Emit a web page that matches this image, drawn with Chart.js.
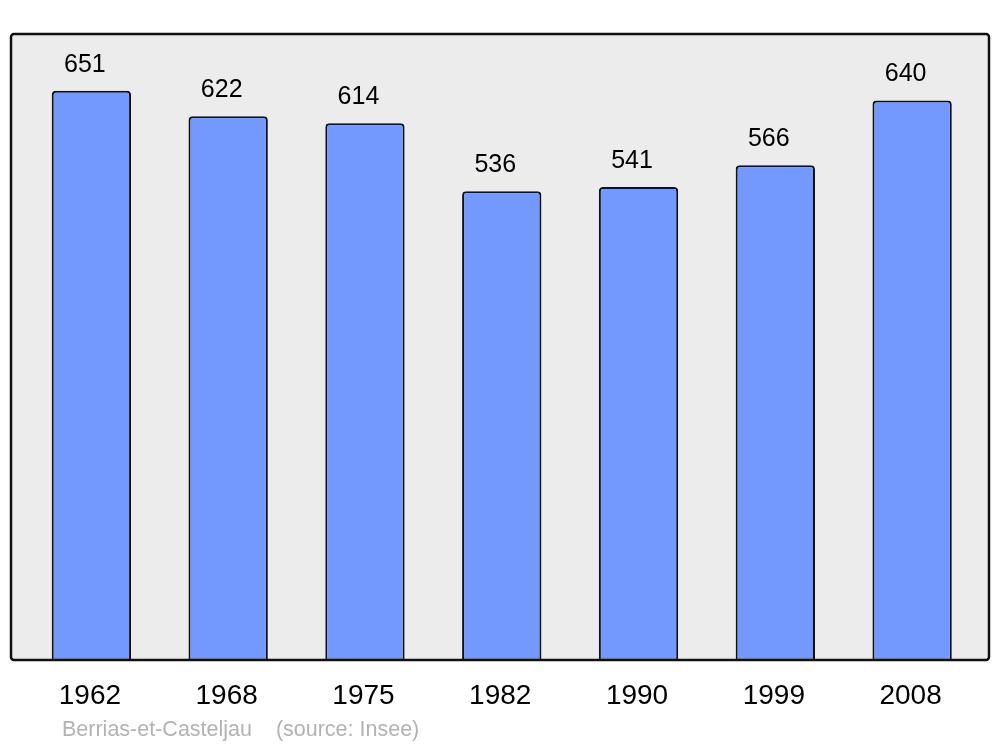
<!DOCTYPE html>
<html>
<head>
<meta charset="utf-8">
<script src="https://cdn.jsdelivr.net/npm/chart.js@4/dist/chart.umd.min.js"></script>
<style>
  html, body { margin: 0; padding: 0; background: #fff; }
  #wrap { width: 1000px; height: 747px; }
</style>
</head>
<body>
<div id="wrap"><canvas id="popChart" width="1000" height="747"></canvas></div>
<script>
const years = ['1962', '1968', '1975', '1982', '1990', '1999', '2008'];
const population = [651, 622, 614, 536, 541, 566, 640];
const footerText = 'Berrias-et-Casteljau    (source: Insee)';

// grey frame behind the bars
const framePlugin = {
    id: 'frame',
    beforeDraw(chart) {
        const a = chart.chartArea;
        const ctx = chart.ctx;
        const x0 = a.left - 12, x1 = a.right + 8.5, y0 = a.top, y1 = a.bottom;
        ctx.save();
        ctx.beginPath();
        ctx.roundRect(x0, y0, x1 - x0, y1 - y0, 3);
        ctx.fillStyle = '#ececec';
        ctx.fill();
        ctx.restore();
    },
    afterDatasetsDraw(chart) {
        const a = chart.chartArea;
        const ctx = chart.ctx;
        const x0 = a.left - 12, x1 = a.right + 8.5, y0 = a.top, y1 = a.bottom;
        ctx.save();
        ctx.beginPath();
        ctx.roundRect(x0, y0, x1 - x0, y1 - y0, 3);
        ctx.lineWidth = 2.5;
        ctx.strokeStyle = '#111';
        ctx.stroke();

        // values above bars
        ctx.fillStyle = '#000';
        ctx.font = '25px "Liberation Sans", Arial, sans-serif';
        ctx.textAlign = 'center';
        ctx.textBaseline = 'middle';
        chart.getDatasetMeta(0).data.forEach((bar, i) => {
            ctx.fillText(String(population[i]), bar.x - 6.5, bar.y - 26);
        });

        // footer
        ctx.fillStyle = '#b3b3b3';
        ctx.font = '21.5px "Liberation Sans", Arial, sans-serif';
        ctx.textAlign = 'left';
        ctx.fillText(footerText, 62, 730);
        ctx.restore();
    }
};

const popCtx = document.getElementById('popChart').getContext('2d');
const popChart = new Chart(popCtx, {
    type: 'bar',
    data: {
        labels: years,
        datasets: [{
            data: population,
            backgroundColor: '#7399ff',
            borderColor: '#111',
            borderWidth: 2,
            borderSkipped: 'bottom',
            borderRadius: { topLeft: 4, topRight: 4, bottomLeft: 0, bottomRight: 0 },
            categoryPercentage: 1,
            barPercentage: 0.58
        }]
    },
    options: {
        responsive: false,
        animation: false,
        layout: { padding: { left: 23, right: 19.5, top: 34, bottom: 0 } },
        plugins: { legend: { display: false }, tooltip: { enabled: false } },
        scales: {
            x: {
                grid: { display: false, drawTicks: false },
                border: { display: false },
                ticks: {
                    color: '#000',
                    font: { family: '"Liberation Sans", Arial, sans-serif', size: 28 },
                    padding: 19,
                    labelOffset: -1.5,
                    maxRotation: 0
                },
                afterFit(scale) { scale.height = 87; }
            },
            y: {
                display: false,
                min: 0,
                max: 716
            }
        }
    },
    plugins: [framePlugin]
});
</script>
</body>
</html>
